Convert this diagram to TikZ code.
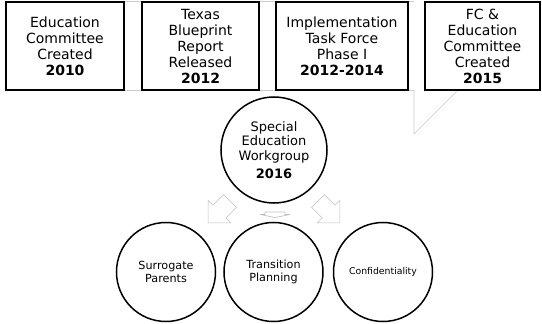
\documentclass[tikz,border=0pt]{standalone}
\usepackage{fontspec}
\setmainfont{DejaVu Sans}

\begin{document}
\begin{tikzpicture}[x=1pt, y=-1pt,
  yearbox/.style={draw, line width=1.5pt, fill=white, minimum height=88pt,
    align=center, inner sep=0pt, font=\fontsize{14}{16}\selectfont},
  topic/.style={draw, circle, line width=1.5pt, minimum size=99pt,
    align=center, inner sep=0pt, font=\fontsize{11.2}{13.5}\selectfont},
  guide/.style={draw=black!20, line width=0.6pt},
  flow/.style={draw=black!25, line width=0.6pt, line join=miter}]
  \useasboundingbox (0,0) rectangle (542,324);

  % thin frame behind the top row and the callout wedge
  \draw[guide] (5,1) -- (414,1);
  \draw[guide] (5,90) -- (414,90);
  \coordinate (wedge) at (414,90);
  \coordinate (tip) at (414,134);
  \coordinate (foot) at (458,90);
  \draw[guide] (wedge) -- (tip) -- (foot);

  % milestones
  \node[yearbox, minimum width=118pt] (edu) at (65,46)
    {Education\\Committee\\Created\\\textbf{2010}};
  \node[yearbox, minimum width=117pt] (blue) at (200.5,46)
    {Texas\\Blueprint\\Report\\Released\\\textbf{2012}};
  \node[yearbox, minimum width=132pt] (task) at (342,46)
    {Implementation\\Task Force\\Phase I\\\textbf{2012-2014}};
  \node[yearbox, minimum width=115pt] (fc) at (482.5,46)
    {FC \&\\Education\\Committee\\Created\\\textbf{2015}};

  % workgroup and its topics
  \node[topic, minimum size=106pt, font=\fontsize{13}{14.5}\selectfont] (work) at (274,150)
    {Special\\Education\\Workgroup\\[4pt]\textbf{2016}};
  \node[topic] (surr) at (166,272) {Surrogate\\Parents};
  \node[topic] (trans) at (273.5,272) {Transition\\Planning};
  \node[topic, font=\fontsize{9.3}{11}\selectfont] (conf) at (383,272) {Confidentiality};

  % block arrows
  \draw[flow, shift={(230,201)}, rotate=225]
    (0,9) -- (15,9) -- (15,16) -- (31,0) -- (15,-16) -- (15,-9) -- (0,-9) -- cycle;
  \draw[flow, shift={(275,212)}, rotate=-90]
    (0,10) -- (2.5,10) -- (2.5,15) -- (5.5,0) -- (2.5,-15) -- (2.5,-10) -- (0,-10) -- cycle;
  \draw[flow, shift={(318,201)}, rotate=-45]
    (0,9) -- (15,9) -- (15,16) -- (31,0) -- (15,-16) -- (15,-9) -- (0,-9) -- cycle;
\end{tikzpicture}
\end{document}
